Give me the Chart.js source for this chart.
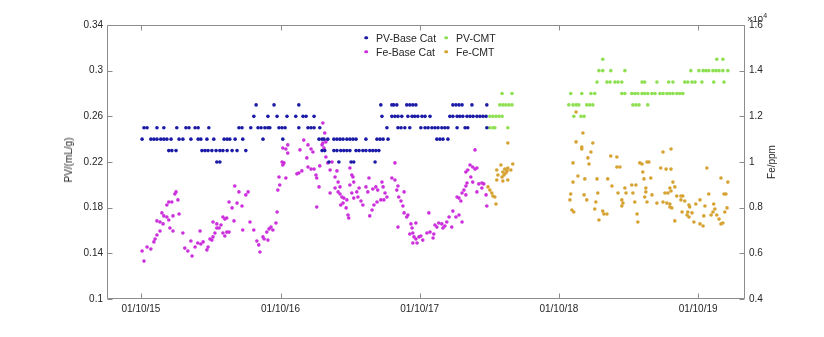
<!DOCTYPE html>
<html><head><meta charset="utf-8">
<script src="https://cdn.jsdelivr.net/npm/chart.js@4.4.0/dist/chart.umd.min.js"></script>
<style>
html,body{margin:0;padding:0;background:#fff;}
#wrap{position:relative;width:824px;height:337px;overflow:hidden;font-family:'Liberation Sans',Arial,sans-serif;color:#262626;}
canvas{position:absolute;left:0;top:0;}
.ttl{position:absolute;font-size:10px;line-height:1;white-space:nowrap;transform:translate(-50%,-50%) rotate(-90deg);}
.leg{position:absolute;font-size:10.5px;line-height:1;white-space:nowrap;transform:translateY(-50%);}
.dot{position:absolute;width:3.6px;height:3.6px;border-radius:50%;transform:translate(-50%,-50%);}
#expo{position:absolute;left:747px;top:12px;font-size:9.5px;line-height:1;white-space:nowrap;}
#expo sup{font-size:7px;vertical-align:4px;}
</style></head>
<body><div id="wrap"><canvas id="c" width="824" height="337"></canvas>
<div class="ttl" style="left:69px;top:160px;">PV/(mL/g)</div>
<div class="ttl" style="left:772px;top:162px;">Fe/ppm</div>
<div id="expo">×10<sup>4</sup></div>
<div id="legend"></div>
</div>
<script>
// x values: days since 01/10/2015
const xTickDays = [0, 366, 731, 1096, 1461];
const pvTicks = [0.1, 0.14, 0.18, 0.22, 0.26, 0.3, 0.34];
const feTicks = [4000, 6000, 8000, 10000, 12000, 14000, 16000];

const seriesNames = ['PV-Base Cat', 'PV-CMT', 'Fe-Base Cat', 'Fe-CMT'];
const seriesColors = ['#1a1aa6', '#8ee052', '#cc2fdc', '#d6a232'];

// PV-Base Cat: days grouped by PV level
const pvBaseLevels = [0.27, 0.26, 0.25, 0.24, 0.23, 0.22];
const pvBaseDays = [
  [302,349,414,629,658,663,671,697,705,713,721,818,826,834,842,868,907],
  [296,333,357,383,406,425,433,454,632,658,666,674,684,700,711,718,726,737,745,758,810,818,829,836,844,855,863,871,881,889,897,905],
  [8,16,42,60,94,118,126,142,150,178,257,265,288,307,315,325,333,338,362,370,378,414,438,446,454,469,645,674,682,692,705,734,745,753,763,771,779,789,797,805,829,850,857,907],
  [3,26,34,42,52,60,68,79,100,110,131,150,157,173,191,218,226,233,247,267,320,372,467,475,480,490,506,514,522,530,540,548,556,564,590,619,627,635,648,776,784,792,805],
  [73,81,92,160,168,176,186,197,207,215,226,239,252,275,475,482,506,514,524,532,540,548,564,572,582,590,600,608,616,624],
  [199,207,493,519,551,558,614]
];

// PV-CMT: days grouped by PV level
const pvCmtLevels = [0.31, 0.30, 0.29, 0.28, 0.27, 0.26, 0.25];
const pvCmtDays = [
  [1211,1510,1526],
  [1201,1211,1232,1269,1442,1463,1474,1481,1489,1500,1508,1516,1526,1539],
  [1196,1222,1230,1243,1251,1261,1314,1321,1353,1384,1395,1426,1434,1445,1453,1471,1502,1529],
  [947,973,1127,1156,1180,1190,1261,1269,1287,1295,1303,1314,1321,1329,1340,1348,1361,1369,1379,1387,1395,1405,1413,1421],
  [941,949,957,965,973,1122,1133,1141,1148,1169,1177,1185,1290,1298,1306,1329],
  [915,923,931,939,947,1135,1154,1162],
  [915,923,928,962]
];

// Fe-Base Cat
const feBaseDays = [8,3,16,26,34,37,42,50,42,50,58,55,60,68,73,84,68,73,81,89,
92,97,100,76,84,110,115,123,131,134,142,149,157,163,155,173,176,181,186,189,
194,199,205,189,199,210,215,220,225,231,239,244,215,220,225,231,246,257,275,281,
252,265,267,286,296,304,309,312,320,330,336,341,346,354,357,323,333,359,364,362,
380,370,372,375,372,380,385,385,409,414,422,417,427,435,438,446,438,446,451,454,
459,461,467,461,469,475,477,480,485,482,477,485,490,496,501,509,514,517,522,496,
509,517,522,527,532,540,524,530,538,543,545,548,553,556,558,548,553,558,566,572,
569,577,582,590,595,600,606,611,619,598,608,616,621,632,629,666,635,640,645,637,
658,666,674,671,676,682,687,690,690,697,700,674,708,711,705,713,716,721,713,724,
729,734,739,721,750,758,766,768,755,771,776,781,789,792,797,802,808,815,818,826,
834,842,829,834,839,842,847,852,852,855,852,857,863,870,876,881,876,886,894,899,
881,865,870,894,905,907];
const feBasePpm = [5660,6100,6280,6190,6500,6630,6800,6980,7420,7370,7290,7770,7640,7590,7460,7640,8120,8250,8250,8600,
8690,8340,7720,7110,6980,6890,6230,6100,6540,5880,6280,6450,6410,6500,6980,6150,6280,6630,6580,6720,
6890,7110,7110,7370,7290,7240,7590,7500,7550,8250,7990,7420,6890,6760,6930,6930,8950,8690,8560,8690,
8200,8070,7020,7370,7020,6540,6370,6060,6720,6930,7070,7150,7020,7330,7810,6630,6580,8770,8990,9340,
9300,10000,9870,9960,10610,10570,10750,10390,9480,9520,9610,10530,10960,10180,9780,9690,10750,10570,10440,9690,
9430,9300,8910,8030,9830,10750,10830,10610,10880,11270,11710,10220,9960,9650,10000,9340,9610,9120,8910,8640,
8860,8690,8600,8470,8420,8340,8120,8200,7990,7680,7550,9740,9430,9340,9120,8990,8640,8420,8690,8860,
8470,8290,8120,8910,8690,7640,7900,8120,8250,9300,8820,8910,8770,9120,8340,9960,8910,8640,8470,8340,
9300,9210,8950,8770,8470,8290,8070,8690,7770,7590,7680,7150,7290,7110,6850,6890,6720,6630,6450,6450,
6720,6760,6580,7330,6890,6930,6670,6850,7770,7240,7150,7330,7290,7110,7200,7370,7590,7150,7850,7590,
7680,7370,8470,8420,8290,8640,8770,8560,8950,9080,9560,9650,9870,9780,9690,9740,10530,9040,9080,9040,
8690,9340,9120,8860,8560,8070];

// Fe-CMT
const feCmtDays = [910,915,920,923,928,931,933,944,949,954,960,962,970,975,936,947,952,957,933,949,962,962,
1141,1159,1141,1185,1156,1156,1180,1172,1175,1133,
1232,1248,1248,1256,1369,1390,1308,1314,1327,1332,
1363,1377,1390,1484,1316,1146,1133,1164,1196,1224,
1235,1319,1337,1287,1298,1269,1324,1395,1400,1387,
1521,1539,1127,1125,1162,1169,1198,1193,1251,1272,
1290,1324,1321,1261,1264,1261,1295,1327,1340,1374,
1382,1390,1405,1416,1421,1416,1426,1353,1369,1379,
1387,1387,1392,1437,1439,1455,1466,1479,1489,1529,
1534,1502,1130,1135,1190,1211,1214,1222,1201,1301,
1303,1400,1419,1434,1445,1432,1437,1450,1466,1474,
1476,1495,1500,1505,1510,1516,1521,1526,1531,1537];
const feCmtPpm = [8910,8770,8640,8510,8470,8160,9650,9870,9560,9690,9610,9740,9650,9910,9430,9340,9430,9520,9210,9170,9210,10830,
12190,11270,10880,10830,10660,10570,10440,10180,9910,9960,
10260,10220,9780,9780,10440,10570,9960,9910,10000,10000,
9740,9690,9690,9740,9560,9390,9120,9260,9260,9260,
8950,9260,9300,8990,8990,8860,8860,9120,8910,8860,
9300,9120,8600,8340,8560,8340,8640,8250,8640,8640,
8640,8690,8470,8340,8200,8070,8250,8250,8560,8640,
8640,8730,8510,8510,8510,8340,8290,8200,8250,8200,
8160,8030,7990,8120,8030,8160,8340,8070,8600,8600,
8600,8160,7900,7810,7940,7850,7720,7720,7460,7720,
7370,7420,7810,7810,7770,7680,7590,7370,7290,7200,
7640,7680,7810,7940,7680,7500,7290,7330,7810,7990];

function levelPoints(levels, daysByLevel) {
  const out = [];
  levels.forEach((lv, i) => daysByLevel[i].forEach(d => out.push({x: d, y: lv})));
  return out;
}
function pairPoints(days, vals) { return days.map((d, i) => ({x: d, y: vals[i]})); }

const BASE = Date.UTC(2015, 9, 1);
function fmtDate(v) {
  const d = new Date(BASE + v * 86400000);
  const p = n => String(n).padStart(2, '0');
  return p(d.getUTCDate()) + '/' + p(d.getUTCMonth() + 1) + '/' + p(d.getUTCFullYear() % 100);
}

Chart.defaults.font.family = "'Liberation Sans', Arial, sans-serif";
Chart.defaults.font.size = 10;
Chart.defaults.color = '#262626';

const AXIS = '#8c8c8c';
const framePlugin = {
  id: 'frame',
  afterDatasetsDraw(chart) {
    const {ctx, chartArea: a, scales} = chart;
    const L = Math.round(a.left) + 0.5, R = Math.round(a.right) - 0.5;
    const T = Math.round(a.top) + 0.5, B = Math.round(a.bottom) - 0.5;
    ctx.save();
    ctx.strokeStyle = AXIS; ctx.lineWidth = 1;
    ctx.beginPath();
    ctx.moveTo(L, T); ctx.lineTo(R, T); ctx.lineTo(R, B); ctx.lineTo(L, B); ctx.closePath();
    const len = 5;
    xTickDays.forEach(v => {
      const x = Math.round(scales.x.getPixelForValue(v)) + 0.5;
      ctx.moveTo(x, B); ctx.lineTo(x, B - len);
      ctx.moveTo(x, T); ctx.lineTo(x, T + len);
    });
    pvTicks.forEach(v => {
      const y = Math.round(scales.yPV.getPixelForValue(v)) + 0.5;
      ctx.moveTo(L, y); ctx.lineTo(L + len, y);
    });
    feTicks.forEach(v => {
      const y = Math.round(scales.yFe.getPixelForValue(v)) + 0.5;
      ctx.moveTo(R, y); ctx.lineTo(R - len, y);
    });
    ctx.stroke();
    ctx.restore();
  }
};

const common = {pointRadius: 1.8, pointHoverRadius: 1.8, borderWidth: 0, showLine: false};
new Chart(document.getElementById('c'), {
  type: 'scatter',
  data: {
    datasets: [
      Object.assign({label: seriesNames[0], data: levelPoints(pvBaseLevels, pvBaseDays), yAxisID: 'yPV', backgroundColor: seriesColors[0], borderColor: seriesColors[0]}, common),
      Object.assign({label: seriesNames[1], data: levelPoints(pvCmtLevels, pvCmtDays), yAxisID: 'yPV', backgroundColor: seriesColors[1], borderColor: seriesColors[1]}, common),
      Object.assign({label: seriesNames[2], data: pairPoints(feBaseDays, feBasePpm), yAxisID: 'yFe', backgroundColor: seriesColors[2], borderColor: seriesColors[2]}, common),
      Object.assign({label: seriesNames[3], data: pairPoints(feCmtDays, feCmtPpm), yAxisID: 'yFe', backgroundColor: seriesColors[3], borderColor: seriesColors[3]}, common)
    ]
  },
  options: {
    responsive: false, animation: false,
    layout: {padding: {top: 25, left: 0, right: 0, bottom: 0}},
    plugins: {legend: {display: false}, tooltip: {enabled: false}},
    scales: {
      x: {
        type: 'linear', position: 'bottom', min: -89, max: 1584,
        grid: {display: false, drawTicks: false}, border: {display: false},
        afterBuildTicks: s => { s.ticks = xTickDays.map(v => ({value: v})); },
        ticks: {padding: 4, autoSkip: false, maxRotation: 0, callback: v => fmtDate(v)},
        afterFit: s => { s.height = 38; }
      },
      yPV: {
        type: 'linear', position: 'left', min: 0.1, max: 0.34,
        grid: {display: false, drawTicks: false}, border: {display: false},
        afterBuildTicks: s => { s.ticks = pvTicks.map(v => ({value: v})); },
        ticks: {padding: 4, callback: v => String(+Number(v).toFixed(2))},
        afterFit: s => { s.width = 107; }
      },
      yFe: {
        type: 'linear', position: 'right', min: 4000, max: 16000,
        grid: {display: false, drawTicks: false}, border: {display: false},
        afterBuildTicks: s => { s.ticks = feTicks.map(v => ({value: v})); },
        ticks: {padding: 4, callback: v => String(+(v / 10000).toFixed(1))},
        afterFit: s => { s.width = 79; }
      }
    }
  },
  plugins: [framePlugin]
});

// legend (2 x 2)
const legPos = [[366, 37.5], [446, 37.5], [366, 51.7], [446, 51.7]];
const legend = document.getElementById('legend');
seriesNames.forEach((name, i) => {
  const [x, y] = legPos[i];
  const d = document.createElement('div');
  d.className = 'dot';
  d.style.left = x + 'px'; d.style.top = y + 'px'; d.style.background = seriesColors[i];
  legend.appendChild(d);
  const t = document.createElement('div');
  t.className = 'leg';
  t.style.left = (x + 10) + 'px'; t.style.top = y + 'px';
  t.textContent = name;
  legend.appendChild(t);
});
</script>
</body></html>
